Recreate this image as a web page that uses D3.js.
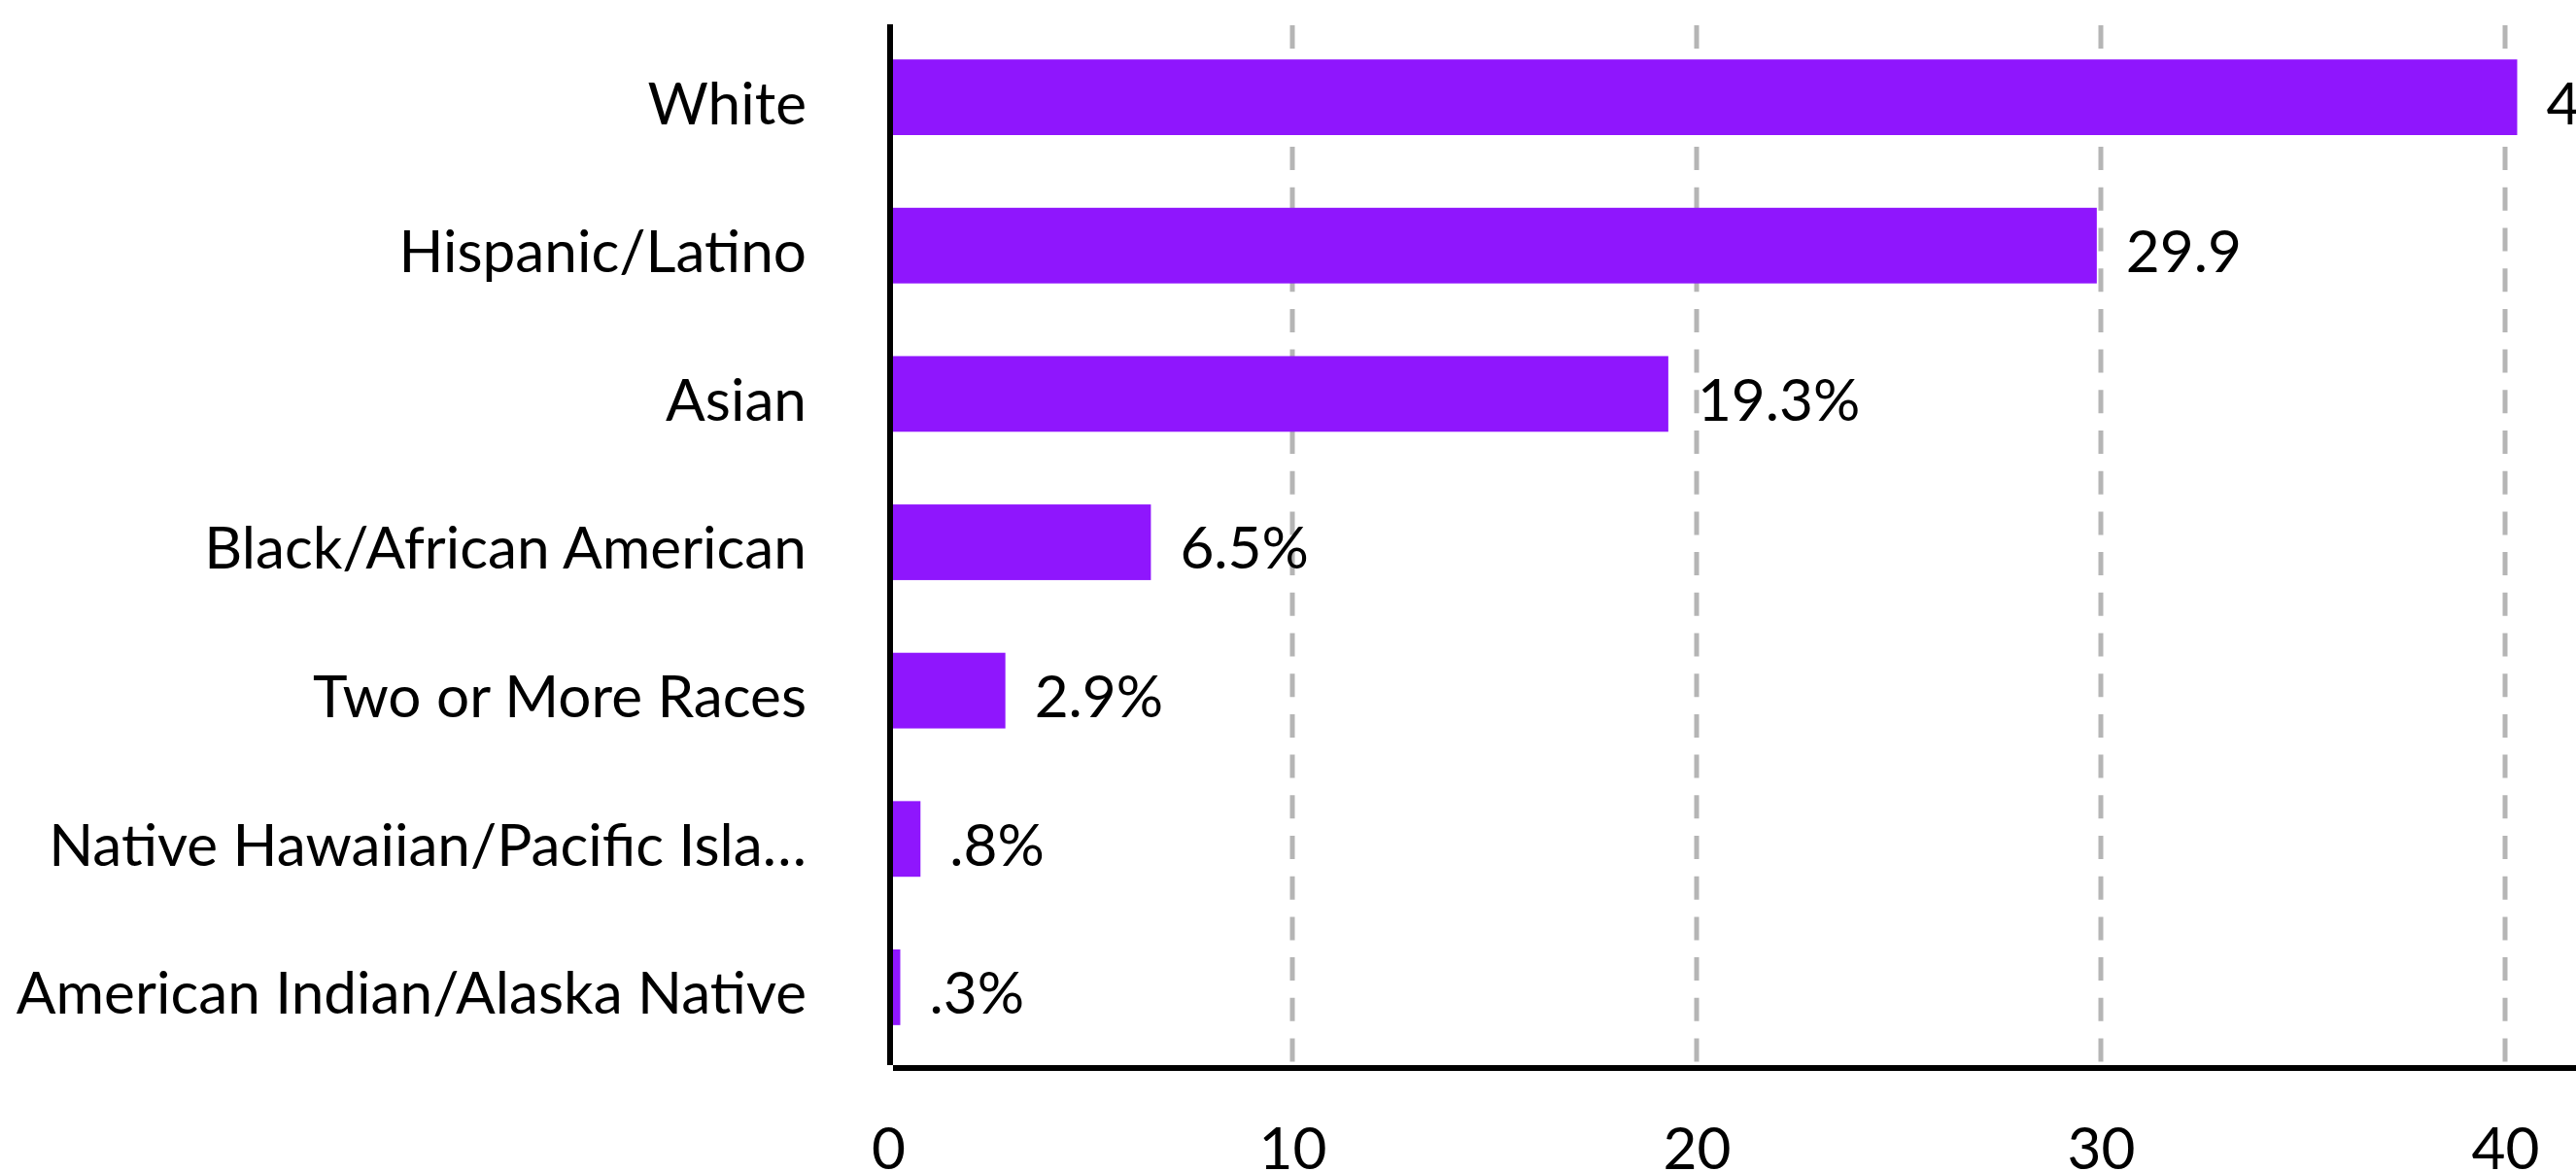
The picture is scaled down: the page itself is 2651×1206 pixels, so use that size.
<!DOCTYPE html>
<html>
<head>
<meta charset="utf-8">
<script src="https://cdn.jsdelivr.net/npm/d3@7"></script>
<style>
    html, body { margin: 0; padding: 0; background: #fff; overflow: hidden; }
    svg { display: block; font-family: Lato, "Open Sans", sans-serif; }
</style>
</head>
<body>
<svg width="2651" height="1206"></svg>
<script>
"use strict"

const categories = [
    "White",
    "Hispanic/Latino",
    "Asian",
    "Black/African American",
    "Two or More Races",
    "Native Hawaiian/Pacific Islander",
    "American Indian/Alaska Native"
]
const values = [40.3, 29.9, 19.3, 6.5, 2.9, 0.8, 0.3]
const valueLabels = ["40.3%", "29.9", "19.3%", "6.5%", "2.9%", ".8%", ".3%"]
const xTicks = [0, 10, 20, 30, 40]

const WIDTH = 2651
const FONT_SIZE = 60.3
const MAX_CHARS = 29

const margin = { top: 25, left: 914 }
const AXIS_Y = 1099

function shorten(label) {
    if (label.length <= MAX_CHARS) return label
    return label.slice(0, MAX_CHARS - 1) + "…"
}

const svg = d3.select("svg")

const x = d3.scaleLinear()
    .domain([0, 40])
    .range([margin.left, margin.left + 1664])

const y = d3.scaleBand()
    .domain(categories)
    .range([23, 1093])
    .paddingInner(0.49)
    .paddingOuter(0.25)

// dashed vertical grid
svg.append("g")
    .selectAll("line")
    .data(xTicks.filter((d) => d > 0))
    .join("line")
    .attr("x1", (d) => x(d))
    .attr("x2", (d) => x(d))
    .attr("y1", margin.top + 1)
    .attr("y2", AXIS_Y - 3)
    .attr("stroke", "#b5b5b5")
    .attr("stroke-width", 5)
    .attr("stroke-dasharray", "24 17.7")

// bars
svg.append("g")
    .selectAll("rect")
    .data(values)
    .join("rect")
    .attr("x", x(0))
    .attr("y", (d, i) => y(categories[i]))
    .attr("width", (d) => x(d) - x(0))
    .attr("height", y.bandwidth())
    .attr("fill", "#8f16fd")

// value labels
svg.append("g")
    .selectAll("text")
    .data(values)
    .join("text")
    .attr("x", (d) => x(d) + 30)
    .attr("y", (d, i) => y(categories[i]) + y.bandwidth() / 2)
    .attr("dy", "0.455em")
    .attr("font-size", FONT_SIZE)
    .attr("fill", "#000")
    .text((d, i) => valueLabels[i])

// category labels
svg.append("g")
    .selectAll("text")
    .data(categories)
    .join("text")
    .attr("x", 830)
    .attr("y", (d) => y(d) + y.bandwidth() / 2)
    .attr("dy", "0.455em")
    .attr("text-anchor", "end")
    .attr("font-size", FONT_SIZE)
    .attr("fill", "#000")
    .text((d) => shorten(d))

// x axis
const xAxis = d3.axisBottom(x)
    .tickValues(xTicks)
    .tickSize(0)
    .tickPadding(61)
    .tickFormat(d3.format("d"))

const gx = svg.append("g")
    .attr("transform", `translate(0,${AXIS_Y})`)
    .call(xAxis)
gx.select(".domain").remove()
gx.selectAll("text")
    .attr("font-size", FONT_SIZE)
    .attr("font-family", "Lato, sans-serif")
    .attr("fill", "#000")

svg.append("line")
    .attr("x1", x(0) + 5)
    .attr("x2", WIDTH)
    .attr("y1", AXIS_Y)
    .attr("y2", AXIS_Y)
    .attr("stroke", "#000")
    .attr("stroke-width", 6)

// y axis line
svg.append("line")
    .attr("x1", x(0) + 2)
    .attr("x2", x(0) + 2)
    .attr("y1", margin.top)
    .attr("y2", AXIS_Y - 3)
    .attr("stroke", "#000")
    .attr("stroke-width", 6)
</script>
</body>
</html>
